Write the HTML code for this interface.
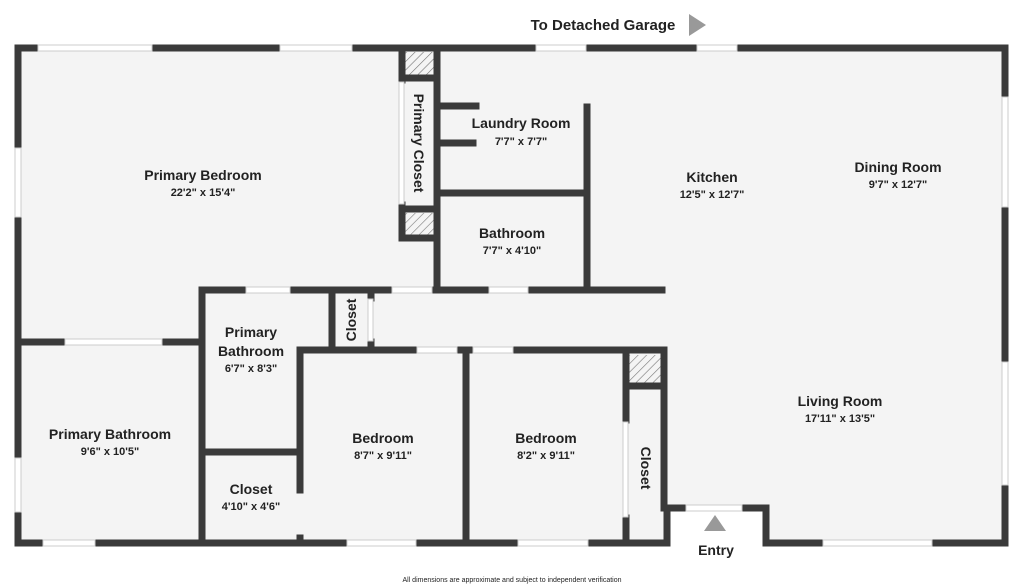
<!DOCTYPE html>
<html><head><style>body{margin:0;background:#fff}svg{display:block}text{font-family:"Liberation Sans",sans-serif;fill:#222;text-anchor:middle}.n{font-weight:bold;font-size:14px}.d{font-weight:bold;font-size:11px}</style></head><body>
<svg width="1024" height="587" viewBox="0 0 1024 587">
<defs><pattern id="h" width="6" height="6" patternUnits="userSpaceOnUse" patternTransform="rotate(45)"><rect width="6" height="6" fill="#f4f4f4"/><line x1="0" y1="0" x2="0" y2="6" stroke="#777" stroke-width="1.2"/></pattern></defs>
<polygon points="18,48 1005,48 1005,543 766,543 766,508 667,508 667,543 18,543" fill="#f4f4f4"/>
<rect x="405" y="52" width="30" height="24" fill="url(#h)"/>
<rect x="405" y="213" width="30" height="24" fill="url(#h)"/>
<rect x="629" y="355" width="33" height="29" fill="url(#h)"/>
<g stroke="#3a3a3a" stroke-width="7" fill="none" stroke-linecap="square">
<polyline points="18,48 1005,48 1005,543 766,543 766,508 667,508 667,543 18,543 18,48"/>
<line x1="402" y1="48" x2="402" y2="80"/><line x1="402" y1="205" x2="402" y2="238"/>
<line x1="437" y1="48" x2="437" y2="290"/>
<line x1="402" y1="78" x2="437" y2="78"/><line x1="402" y1="209" x2="437" y2="209"/><line x1="402" y1="238" x2="437" y2="238"/>
<line x1="437" y1="106" x2="476" y2="106"/><line x1="437" y1="143" x2="473" y2="143"/>
<line x1="587" y1="107" x2="587" y2="290"/><line x1="437" y1="193" x2="587" y2="193"/>
<line x1="202" y1="290" x2="662" y2="290"/>
<line x1="18" y1="342" x2="202" y2="342"/>
<line x1="202" y1="290" x2="202" y2="543"/>
<line x1="332" y1="290" x2="332" y2="350"/>
<line x1="371" y1="290" x2="371" y2="298"/><line x1="371" y1="342" x2="371" y2="350"/>
<line x1="300" y1="350" x2="664" y2="350"/>
<line x1="300" y1="350" x2="300" y2="490"/><line x1="300" y1="538" x2="300" y2="543"/>
<line x1="202" y1="452" x2="300" y2="452"/>
<line x1="466" y1="350" x2="466" y2="543"/>
<line x1="626" y1="350" x2="626" y2="420"/><line x1="626" y1="518" x2="626" y2="543"/>
<line x1="664" y1="350" x2="664" y2="508"/>
<line x1="626" y1="386" x2="664" y2="386"/>
</g>
<g fill="#fff" stroke="#ccc" stroke-width="1">
<rect x="38" y="45" width="114" height="6"/><rect x="280" y="45" width="72" height="6"/><rect x="536" y="45" width="50" height="6"/><rect x="697" y="45" width="40" height="6"/>
<rect x="43" y="540" width="52" height="6"/><rect x="347" y="540" width="69" height="6"/><rect x="518" y="540" width="70" height="6"/><rect x="823" y="540" width="109" height="6"/>
<rect x="15" y="148" width="6" height="69"/><rect x="15" y="458" width="6" height="54"/>
<rect x="1002" y="97" width="6" height="110"/><rect x="1002" y="362" width="6" height="123"/>
<rect x="65" y="339" width="97" height="6"/>
<rect x="246" y="287" width="44" height="6"/><rect x="392" y="287" width="40" height="6"/><rect x="489" y="287" width="39" height="6"/>
<rect x="417" y="347" width="40" height="6"/><rect x="473" y="347" width="40" height="6"/>
<rect x="686" y="505" width="56" height="6"/>
<rect x="399" y="82" width="5" height="122"/><rect x="368" y="299" width="5" height="42"/><rect x="623" y="422" width="5" height="95"/>
</g>
<polygon points="689,14 706,25 689,36" fill="#999"/>
<polygon points="704,531 715,515 726,531" fill="#999"/>
<text x="603" y="30" class="n" style="font-size:15px">To Detached Garage</text>
<text x="203" y="180" class="n">Primary Bedroom</text><text x="203" y="196" class="d">22'2" x 15'4"</text>
<text x="521" y="128" class="n">Laundry Room</text><text x="521" y="145" class="d">7'7" x 7'7"</text>
<text x="512" y="238" class="n">Bathroom</text><text x="512" y="254" class="d">7'7" x 4'10"</text>
<text x="712" y="182" class="n">Kitchen</text><text x="712" y="198" class="d">12'5" x 12'7"</text>
<text x="898" y="172" class="n">Dining Room</text><text x="898" y="188" class="d">9'7" x 12'7"</text>
<text x="110" y="439" class="n">Primary Bathroom</text><text x="110" y="455" class="d">9'6" x 10'5"</text>
<text x="251" y="337" class="n">Primary</text><text x="251" y="356" class="n">Bathroom</text><text x="251" y="372" class="d">6'7" x 8'3"</text>
<text x="251" y="494" class="n">Closet</text><text x="251" y="510" class="d">4'10" x 4'6"</text>
<text x="383" y="443" class="n">Bedroom</text><text x="383" y="459" class="d">8'7" x 9'11"</text>
<text x="546" y="443" class="n">Bedroom</text><text x="546" y="459" class="d">8'2" x 9'11"</text>
<text x="840" y="406" class="n">Living Room</text><text x="840" y="422" class="d">17'11" x 13'5"</text>
<text x="716" y="555" class="n">Entry</text>
<text transform="translate(414,143) rotate(90)" class="n">Primary Closet</text>
<text transform="translate(356,320) rotate(-90)" class="n">Closet</text>
<text transform="translate(641,468) rotate(90)" class="n">Closet</text>
<text x="512" y="582" style="font-size:7px">All dimensions are approximate and subject to independent verification</text>
</svg>
</body></html>
